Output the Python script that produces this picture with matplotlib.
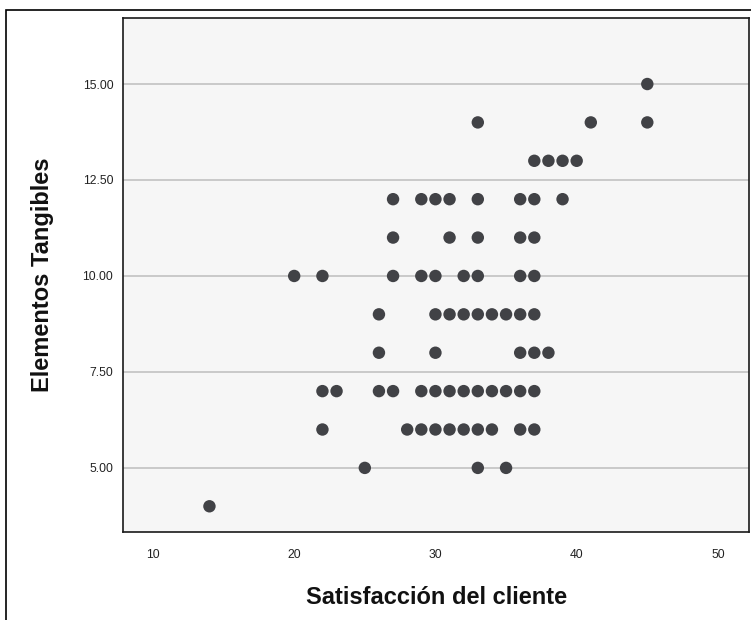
import matplotlib

matplotlib.use("Agg")
import matplotlib.pyplot as plt
from matplotlib.patches import Rectangle

# satisfaction score (x) and tangible-elements score (y), one pair per respondent
satisfaccion = [
    14,
    20, 22, 27, 29, 30, 32, 33, 36, 37,
    22, 23, 26, 27, 29, 30, 31, 32, 33, 34, 35, 36, 37,
    22, 28, 29, 30, 31, 32, 33, 34, 36, 37,
    25, 33, 35,
    26, 30, 31, 32, 33, 34, 35, 36, 37,
    26, 30, 36, 37, 38,
    27, 31, 33, 36, 37,
    27, 29, 30, 31, 33, 36, 37, 39,
    37, 38, 39, 40,
    33, 41, 45,
    45,
]
tangibles = [
    4,
    10, 10, 10, 10, 10, 10, 10, 10, 10,
    7, 7, 7, 7, 7, 7, 7, 7, 7, 7, 7, 7, 7,
    6, 6, 6, 6, 6, 6, 6, 6, 6, 6,
    5, 5, 5,
    9, 9, 9, 9, 9, 9, 9, 9, 9,
    8, 8, 8, 8, 8,
    11, 11, 11, 11, 11,
    12, 12, 12, 12, 12, 12, 12, 12,
    13, 13, 13, 13,
    14, 14, 14,
    15,
]
x_ticks = [10, 20, 30, 40, 50]
y_ticks = [5.0, 7.5, 10.0, 12.5, 15.0]

plt.rcParams["font.family"] = ["Liberation Sans", "DejaVu Sans"]

W, H = 751, 620
fig = plt.figure(figsize=(W / 100, H / 100), dpi=100, facecolor="white")

# outer chart border (left and top edges visible, the rest runs off the canvas)
fig.patches.append(Rectangle((6 / W, -0.1), 1.2, (H - 10) / H + 0.1,
                             transform=fig.transFigure, fill=False,
                             edgecolor="black", lw=1.2))

ax = fig.add_axes([123 / W, (H - 532) / H, (749 - 123) / W, (532 - 18) / H])
ax.set_facecolor("#f6f6f6")
for sp in ax.spines.values():
    sp.set_color("#1a1a1a")
    sp.set_linewidth(1.2)

ax.scatter(satisfaccion, tangibles, s=80, color="#414246", edgecolors="none",
           zorder=3)

ax.set_xlim(7.88, 52.2)
ax.set_ylim(3.33, 16.72)
ax.set_xticks(x_ticks)
ax.set_xticklabels([str(v) for v in x_ticks])
ax.set_yticks(y_ticks)
ax.set_yticklabels([f"{v:.2f}" for v in y_ticks])
ax.tick_params(length=0, labelsize=8.7, colors="#222222")
ax.tick_params(axis="x", pad=12)
ax.tick_params(axis="y", pad=7)
ax.yaxis.grid(True, color="#c6c6c6", lw=1.3)
ax.set_axisbelow(True)

fig.text(43 / W, 1 - 275 / H, "Elementos Tangibles", rotation=90,
         ha="center", va="center", fontsize=17, fontweight="bold",
         color="#111111")
fig.text(437 / W, 1 - 598 / H, "Satisfacción del cliente", ha="center",
         va="center", fontsize=17, fontweight="bold", color="#111111")

fig.savefig("out.png", dpi=100, facecolor="white")
